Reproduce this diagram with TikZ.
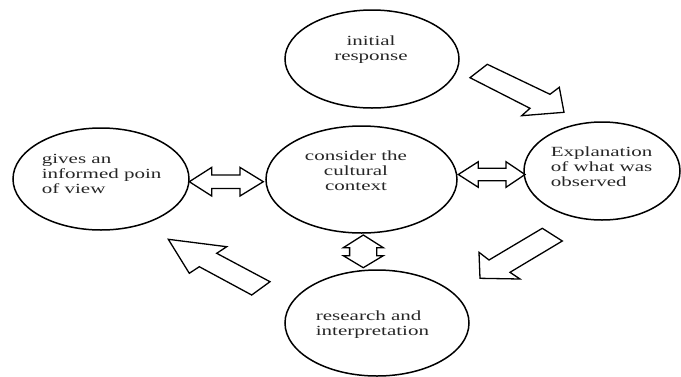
\documentclass[tikz,border=0pt]{standalone}
\usepackage{fontspec}
\setmainfont{Liberation Serif}[FakeStretch=1.5]
\usetikzlibrary{shapes.geometric}
\tikzset{
  bubble/.style={draw=black, line width=1.5pt, ellipse, inner sep=0pt, fill=none},
  label/.style={inner sep=0pt, text=black!85, font=\fontsize{14}{15}\selectfont},
  blockarrow/.style={draw=black, line width=1.3pt, fill=white, line join=miter}
}
\begin{document}
\begin{tikzpicture}[x=1pt, y=-1pt]
\useasboundingbox (0,0) rectangle (681,376);
% ellipses
\node[bubble, minimum width=176pt, minimum height=102pt] (view) at (101,179) {};
\node[bubble, minimum width=174pt, minimum height=98pt] (init) at (372,59) {};
\node[bubble, minimum width=191pt, minimum height=107pt] (ctx) at (361.5,179.5) {};
\node[bubble, minimum width=156pt, minimum height=98pt] (expl) at (602,171) {};
\node[bubble, minimum width=184pt, minimum height=106pt] (res) at (377,323) {};
% texts
\node[label, align=left, anchor=west] (tview) at (41.7,174) {gives an\\informed poin\\of view};
\node[label, align=center] (tinit) at (371,50) {initial\\response};
\node[label, align=center] (tctx) at (356,171) {consider the\\cultural\\context};
\node[label, align=left, anchor=west] (texpl) at (550.7,166.5) {Explanation\\of what was\\observed};
\node[label, align=left, anchor=west] (tres) at (315.7,325) {research and\\interpretation};
% block arrows
\draw[blockarrow] (470,77.7) -- (487.3,64.3) -- (550,94.3) -- (559.3,87.3) -- (564,112.3) -- (521.7,115.7) -- (530,108.3) -- cycle;
\draw[blockarrow] (542.3,228.3) -- (489,260) -- (479,252.3) -- (480,278.3) -- (520,279) -- (510,272.3) -- (562.3,241) -- cycle;
\draw[blockarrow] (168.3,239.3) -- (226.7,246.7) -- (216.7,253.3) -- (270,281.7) -- (251.7,295) -- (199.3,266.7) -- (189.3,273.3) -- cycle;
% double arrows
\draw[blockarrow] (189.3,181.7) -- (211.7,167.4) -- (211.7,175) -- (240,175) -- (240,167.4) -- (263.3,181.7) -- (240,196) -- (240,188.4) -- (211.7,188.4) -- (211.7,196) -- cycle;
\draw[blockarrow] (458.3,174.5) -- (478.3,161.7) -- (478.3,168.2) -- (506,168.2) -- (506,161.7) -- (525,174.5) -- (506,187.3) -- (506,180.8) -- (478.3,180.8) -- (478.3,187.3) -- cycle;
\draw[blockarrow] (363.3,235) -- (383.3,247.7) -- (376.7,247.7) -- (376.7,255.7) -- (383.3,255.7) -- (363.3,267.7) -- (343.3,255.7) -- (349.6,255.7) -- (349.6,247.7) -- (343.3,247.7) -- cycle;
\end{tikzpicture}
\end{document}
